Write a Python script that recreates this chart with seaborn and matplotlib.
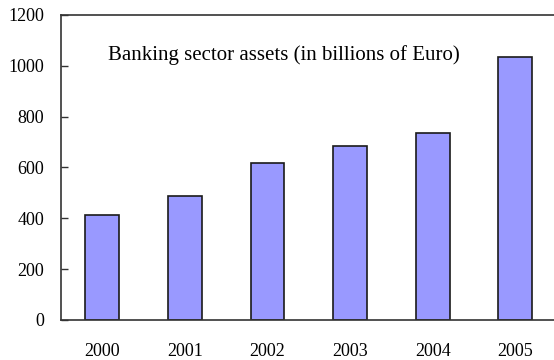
import matplotlib
matplotlib.use("Agg")
import matplotlib.pyplot as plt
import seaborn as sns
import pandas as pd

years = ["2000", "2001", "2002", "2003", "2004", "2005"]
assets = [413, 488, 616, 684, 735, 1036]
y_ticks = [0, 200, 400, 600, 800, 1000, 1200]
title_text = "Banking sector assets (in billions of Euro)"

sns.set_theme(style="white")
plt.rcParams["font.family"] = ["Liberation Serif", "DejaVu Serif"]

df = pd.DataFrame({"year": years, "assets": assets})

fig = plt.figure(figsize=(5.54, 3.6), dpi=100)
ax = fig.add_axes([61 / 554, 40 / 360, 495.6 / 554, 305 / 360])

sns.barplot(data=df, x="year", y="assets", color="#9999FF", saturation=1,
            edgecolor="#1a1a1a", linewidth=1.2, width=0.41, ax=ax)

ax.set_xlim(-0.5, len(years) - 0.5)
ax.set_ylim(0, 1200)
ax.set_yticks(y_ticks)
ax.set_yticklabels([str(v) for v in y_ticks], fontsize=13, color="black")
ax.set_xlabel("")
ax.set_ylabel("")

# category labels without marks; marks sit on category boundaries
ax.tick_params(axis="x", which="major", length=0, pad=16.5, labelsize=13, labelcolor="black")
ax.set_xticks([i + 0.5 for i in range(len(years) - 1)], minor=True)
ax.tick_params(axis="x", which="minor", direction="in", length=5, width=1, color="#333333")
ax.tick_params(axis="y", direction="in", length=5, width=1, color="#333333", pad=12, left=True)

for s in ax.spines.values():
    s.set_visible(True)
    s.set_color("#333333")
    s.set_linewidth(1.2)

ax.text(0.45, 0.868, title_text, transform=ax.transAxes, ha="center", va="center",
        fontsize=15, color="black")

fig.savefig("out.png", dpi=100)
